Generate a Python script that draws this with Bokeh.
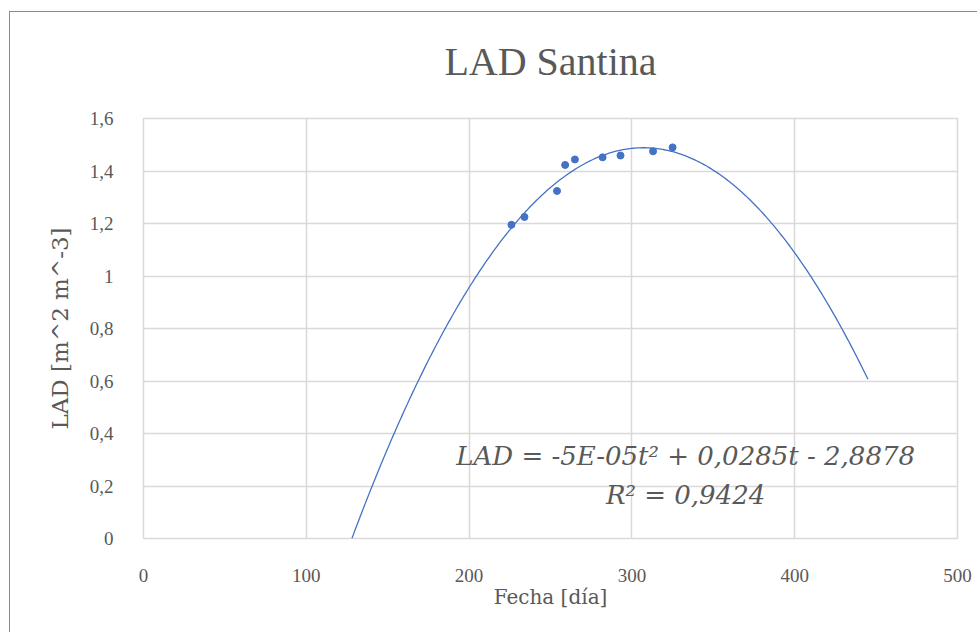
from bokeh.plotting import figure
from bokeh.models import ColumnDataSource, Label, FixedTicker, LinearAxis
from bokeh.embed import file_html
from bokeh.resources import INLINE
import numpy as np

# ---- data ----
fecha = [226, 234, 254, 259, 265, 282, 293, 313, 325]
lad = [1.195, 1.225, 1.324, 1.423, 1.444, 1.452, 1.459, 1.475, 1.490]

# polynomial trendline coefficients (a t^2 + b t + c) and its span
trend_coef = [-4.64e-5, 0.0285, -2.8878]
trend_span = [128, 445]

x_ticks = [0, 100, 200, 300, 400, 500]
y_ticks = [0, 0.2, 0.4, 0.6, 0.8, 1.0, 1.2, 1.4, 1.6]
y_tick_labels = ["0", "0,2", "0,4", "0,6", "0,8", "1", "1,2", "1,4", "1,6"]

title_text = "LAD Santina"
x_label = "Fecha [día]"
y_label = "LAD [m^2 m^-3]"
eq_text = "LAD = -5E-05t² + 0,0285t - 2,8878"
r2_text = "R² = 0,9424"

FONT = "Liberation Serif"
FONT2 = "DejaVu Serif"
TXT = "#595959"
GRID = "#d9d9d9"
BLUE = "#4472C4"

p = figure(width=968, height=621, x_range=(0, 500), y_range=(0, 1.6),
           output_backend="svg", toolbar_location=None,
           min_border_left=133, min_border_right=21,
           min_border_top=106, min_border_bottom=95,
           background_fill_color="white", border_fill_color="white")
p.styles = {"margin-left": "9px", "margin-top": "11px",
            "border-left": "1px solid #8a8a8a", "border-top": "1px solid #8a8a8a"}

p.outline_line_color = GRID
p.outline_line_width = 1.5

for ax in (p.xaxis[0], p.yaxis[0]):
    ax.axis_line_color = None
    ax.major_tick_line_color = None
    ax.minor_tick_line_color = None
    ax.major_label_text_font = FONT
    ax.major_label_text_font_size = "19px"
    ax.major_label_text_color = TXT
    ax.axis_label_text_font = FONT2
    ax.axis_label_text_font_style = "normal"
    ax.axis_label_text_color = TXT

p.xaxis.axis_label_text_font_size = "20px"
p.yaxis.axis_label_text_font_size = "23px"
p.xaxis.ticker = FixedTicker(ticks=x_ticks)
p.yaxis.ticker = FixedTicker(ticks=y_ticks)
p.yaxis.major_label_overrides = {t: l for t, l in zip(y_ticks, y_tick_labels)}
p.xaxis.major_label_standoff = 24
p.yaxis.major_label_standoff = 24
p.xaxis.axis_label = x_label
p.yaxis.axis_label = y_label
p.xaxis.axis_label_standoff = 0
p.yaxis.axis_label_standoff = 14

# title drawn as the label of an empty axis above the frame
title_axis = LinearAxis(ticker=FixedTicker(ticks=[]), axis_label=title_text,
                        axis_line_color=None, major_tick_line_color=None,
                        minor_tick_line_color=None,
                        axis_label_text_font=FONT, axis_label_text_font_size="40px",
                        axis_label_text_font_style="normal",
                        axis_label_text_color=TXT, axis_label_standoff=35)
p.add_layout(title_axis, "above")

p.xgrid.grid_line_color = GRID
p.ygrid.grid_line_color = GRID
p.xgrid.grid_line_width = 1.5
p.ygrid.grid_line_width = 1.5

# trendline
tt = np.linspace(trend_span[0], trend_span[1], 300)
yy = np.polyval(trend_coef, tt)
p.line(tt, yy, line_color=BLUE, line_width=1.3)

# points
src = ColumnDataSource(dict(x=fecha, y=lad))
p.scatter("x", "y", source=src, size=7, fill_color=BLUE, line_color=BLUE)

# equation labels
p.add_layout(Label(x=333, y=0.316, text=eq_text, text_font=FONT2,
                   text_font_size="26px", text_font_style="italic",
                   text_color=TXT, text_align="center", text_baseline="middle"))
p.add_layout(Label(x=333, y=0.164, text=r2_text, text_font=FONT2,
                   text_font_size="26px", text_font_style="italic",
                   text_color=TXT, text_align="center", text_baseline="middle"))

open("out.html", "w").write(file_html(p, INLINE))
